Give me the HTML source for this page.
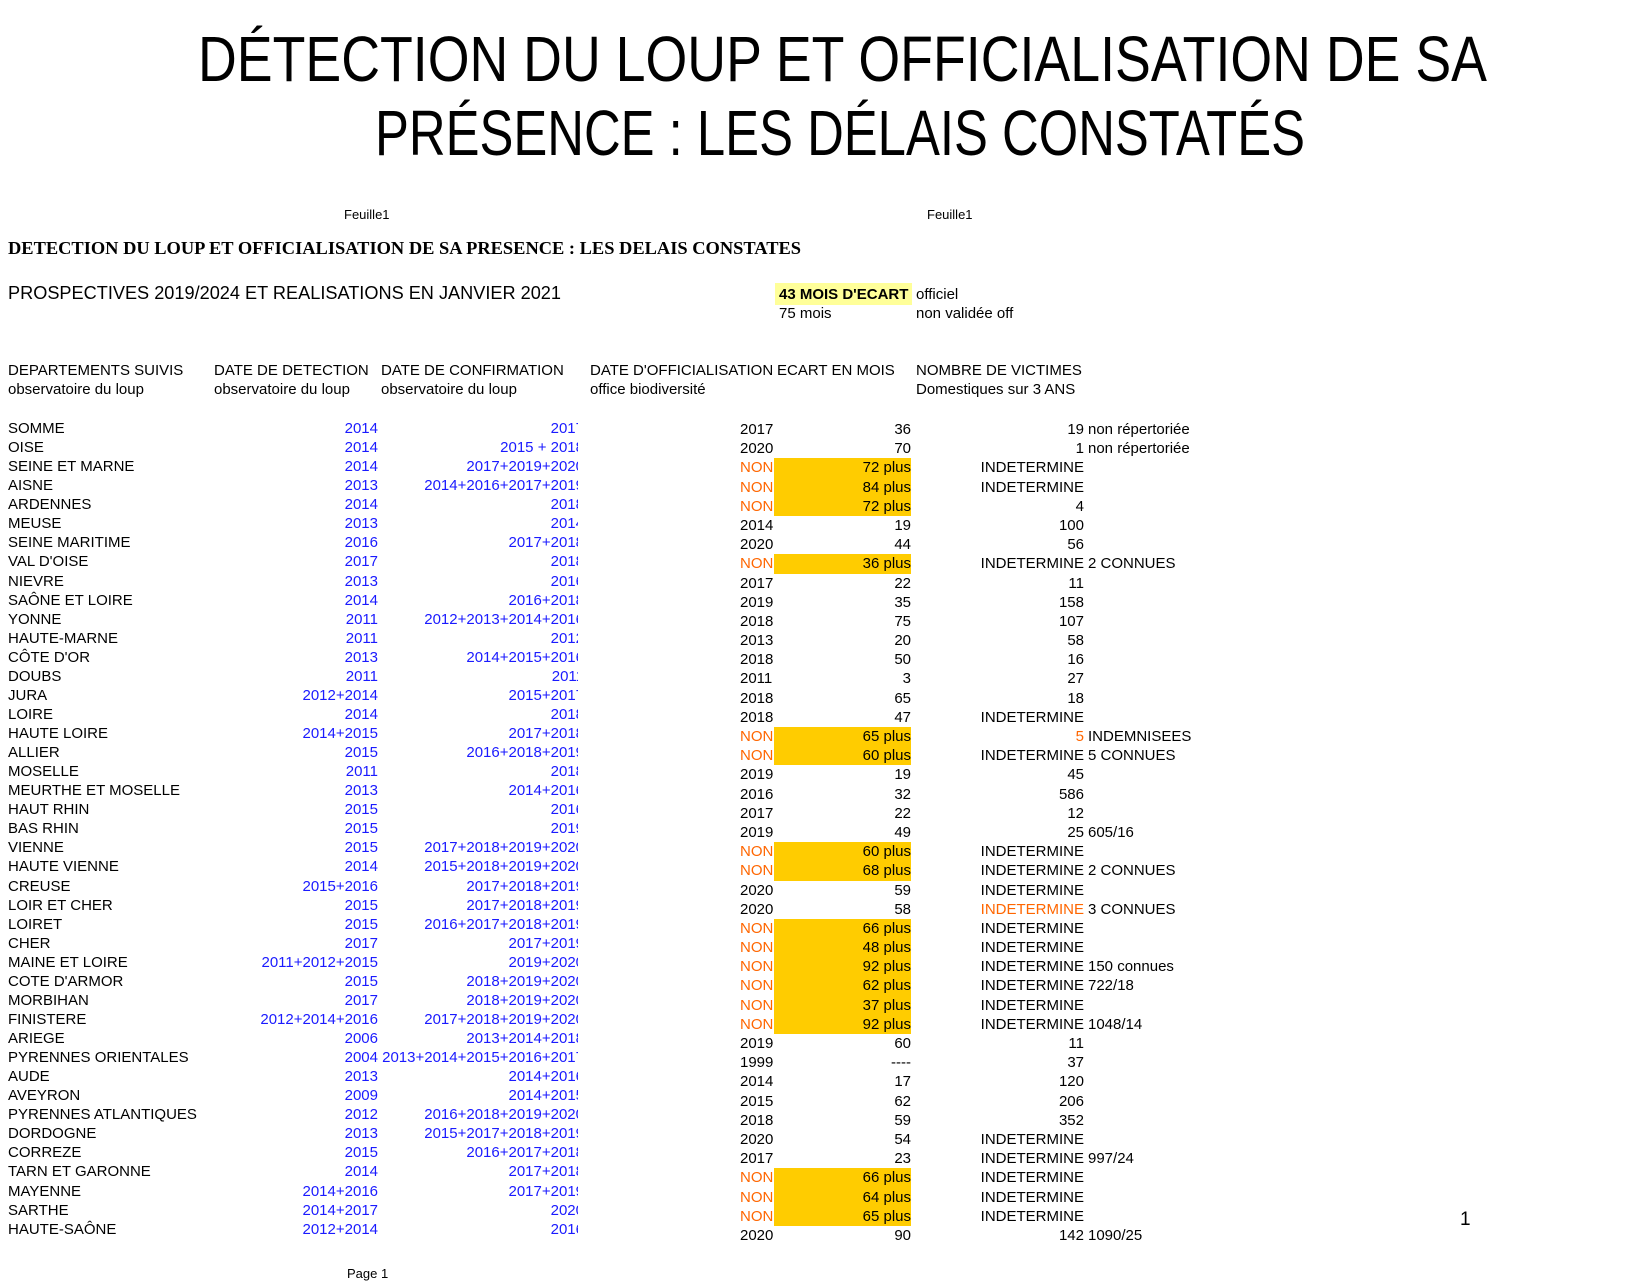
<!DOCTYPE html>
<html><head><meta charset="utf-8"><style>
body{margin:0;width:1650px;height:1275px;background:#fff;position:relative;overflow:hidden;font-family:"Liberation Sans",Arial,sans-serif;color:#000}
.a{position:absolute;white-space:nowrap}
.t{font-size:15px;line-height:19px}
.col{position:absolute;font-size:15px;white-space:nowrap}
.L>div,.L>.w>div{height:19.07px;line-height:19.07px}
.R>div{height:19.2px;line-height:19.2px}
.bl{color:#1a1aff}
.or{color:#ff6600}
.y{background:#ffcc00}
.r{text-align:right}
</style></head><body>
<svg class="a" style="left:0;top:0" width="1650" height="320">
<text x="198" y="81" font-family="Liberation Sans, sans-serif" font-size="64" textLength="1289" lengthAdjust="spacingAndGlyphs">DÉTECTION DU LOUP ET OFFICIALISATION DE SA</text>
<text x="375" y="155" font-family="Liberation Sans, sans-serif" font-size="64" textLength="930" lengthAdjust="spacingAndGlyphs">PRÉSENCE : LES DÉLAIS CONSTATÉS</text>
<text x="8" y="254" font-family="Liberation Serif, serif" font-weight="bold" font-size="18" textLength="793" lengthAdjust="spacingAndGlyphs">DETECTION DU LOUP ET OFFICIALISATION DE SA PRESENCE  :  LES DELAIS CONSTATES</text>
<text x="8" y="299" font-family="Liberation Sans, sans-serif" font-size="18" textLength="553" lengthAdjust="spacingAndGlyphs">PROSPECTIVES 2019/2024 ET REALISATIONS EN JANVIER 2021</text>
</svg>
<div class="a" style="left:344px;top:207px;font-size:13px">Feuille1</div>
<div class="a" style="left:927px;top:207px;font-size:13px">Feuille1</div>
<div class="a" style="left:775px;top:283px;width:137px;height:22px;background:#ffff99"></div>
<div class="a t" style="left:779px;top:285px;font-weight:bold">43 MOIS D'ECART</div>
<div class="a t" style="left:916px;top:285px">officiel</div>
<div class="a t" style="left:779px;top:304px">75 mois</div>
<div class="a t" style="left:916px;top:304px">non validée off</div>

<div class="a t" style="left:8px;top:361px">DEPARTEMENTS SUIVIS<br>observatoire du loup</div>
<div class="a t" style="left:214px;top:361px">DATE DE DETECTION<br>observatoire du loup</div>
<div class="a t" style="left:381px;top:361px">DATE DE CONFIRMATION<br>observatoire du loup</div>
<div class="a t" style="left:590px;top:361px">DATE D'OFFICIALISATION<br>office biodiversité</div>
<div class="a t" style="left:777px;top:361px">ECART EN MOIS</div>
<div class="a t" style="left:916px;top:361px">NOMBRE DE VICTIMES<br>Domestiques sur 3 ANS</div>

<div class="col L" style="left:8px;top:419px">
<div>SOMME</div><div>OISE</div><div>SEINE ET MARNE</div><div>AISNE</div><div>ARDENNES</div><div>MEUSE</div><div>SEINE MARITIME</div><div>VAL D'OISE</div><div>NIEVRE</div><div>SAÔNE ET LOIRE</div><div>YONNE</div><div>HAUTE-MARNE</div><div>CÔTE D'OR</div><div>DOUBS</div><div>JURA</div><div>LOIRE</div><div>HAUTE LOIRE</div><div>ALLIER</div><div>MOSELLE</div><div>MEURTHE ET MOSELLE</div><div>HAUT RHIN</div><div>BAS RHIN</div><div>VIENNE</div><div>HAUTE VIENNE</div><div>CREUSE</div><div>LOIR ET CHER</div><div>LOIRET</div><div>CHER</div><div>MAINE ET LOIRE</div><div>COTE D'ARMOR</div><div>MORBIHAN</div><div>FINISTERE</div><div>ARIEGE</div><div>PYRENNES ORIENTALES</div><div>AUDE</div><div>AVEYRON</div><div>PYRENNES ATLANTIQUES</div><div>DORDOGNE</div><div>CORREZE</div><div>TARN ET GARONNE</div><div>MAYENNE</div><div>SARTHE</div><div>HAUTE-SAÔNE</div>
</div>

<div class="col L bl r" style="left:200px;top:419px;width:178px">
<div>2014</div><div>2014</div><div>2014</div><div>2013</div><div>2014</div><div>2013</div><div>2016</div><div>2017</div><div>2013</div><div>2014</div><div>2011</div><div>2011</div><div>2013</div><div>2011</div><div>2012+2014</div><div>2014</div><div>2014+2015</div><div>2015</div><div>2011</div><div>2013</div><div>2015</div><div>2015</div><div>2015</div><div>2014</div><div>2015+2016</div><div>2015</div><div>2015</div><div>2017</div><div>2011+2012+2015</div><div>2015</div><div>2017</div><div>2012+2014+2016</div><div>2006</div><div>2004</div><div>2013</div><div>2009</div><div>2012</div><div>2013</div><div>2015</div><div>2014</div><div>2014+2016</div><div>2014+2017</div><div>2012+2014</div>
</div>

<div class="col L bl" style="left:379px;top:419px;width:199px;height:830px;overflow:hidden">
<section class="w r" style="width:205px">
<div>2017</div><div>2015 + 2018</div><div>2017+2019+2020</div><div>2014+2016+2017+2019</div><div>2018</div><div>2014</div><div>2017+2018</div><div>2018</div><div>2016</div><div>2016+2018</div><div>2012+2013+2014+2016</div><div>2012</div><div>2014+2015+2016</div><div>2011</div><div>2015+2017</div><div>2018</div><div>2017+2018</div><div>2016+2018+2019</div><div>2018</div><div>2014+2016</div><div>2016</div><div>2019</div><div>2017+2018+2019+2020</div><div>2015+2018+2019+2020</div><div>2017+2018+2019</div><div>2017+2018+2019</div><div>2016+2017+2018+2019</div><div>2017+2019</div><div>2019+2020</div><div>2018+2019+2020</div><div>2018+2019+2020</div><div>2017+2018+2019+2020</div><div>2013+2014+2018</div><div>2013+2014+2015+2016+2017</div><div>2014+2016</div><div>2014+2015</div><div>2016+2018+2019+2020</div><div>2015+2017+2018+2019</div><div>2016+2017+2018</div><div>2017+2018</div><div>2017+2019</div><div>2020</div><div>2016</div>
</section></div>

<div class="col R" style="left:740px;top:420px">
<div>2017</div><div>2020</div><div class="or">NON</div><div class="or">NON</div><div class="or">NON</div><div>2014</div><div>2020</div><div class="or">NON</div><div>2017</div><div>2019</div><div>2018</div><div>2013</div><div>2018</div><div>2011</div><div>2018</div><div>2018</div><div class="or">NON</div><div class="or">NON</div><div>2019</div><div>2016</div><div>2017</div><div>2019</div><div class="or">NON</div><div class="or">NON</div><div>2020</div><div>2020</div><div class="or">NON</div><div class="or">NON</div><div class="or">NON</div><div class="or">NON</div><div class="or">NON</div><div class="or">NON</div><div>2019</div><div>1999</div><div>2014</div><div>2015</div><div>2018</div><div>2020</div><div>2017</div><div class="or">NON</div><div class="or">NON</div><div class="or">NON</div><div>2020</div>
</div>

<div class="col R r" style="left:774px;top:420px;width:137px">
<div>36</div><div>70</div><div class="y">72 plus</div><div class="y">84 plus</div><div class="y">72 plus</div><div>19</div><div>44</div><div class="y">36 plus</div><div>22</div><div>35</div><div>75</div><div>20</div><div>50</div><div>3</div><div>65</div><div>47</div><div class="y">65 plus</div><div class="y">60 plus</div><div>19</div><div>32</div><div>22</div><div>49</div><div class="y">60 plus</div><div class="y">68 plus</div><div>59</div><div>58</div><div class="y">66 plus</div><div class="y">48 plus</div><div class="y">92 plus</div><div class="y">62 plus</div><div class="y">37 plus</div><div class="y">92 plus</div><div>60</div><div>----</div><div>17</div><div>62</div><div>59</div><div>54</div><div>23</div><div class="y">66 plus</div><div class="y">64 plus</div><div class="y">65 plus</div><div>90</div>
</div>

<div class="col R r" style="left:880px;top:420px;width:204px">
<div>19</div><div>1</div><div>INDETERMINE</div><div>INDETERMINE</div><div>4</div><div>100</div><div>56</div><div>INDETERMINE</div><div>11</div><div>158</div><div>107</div><div>58</div><div>16</div><div>27</div><div>18</div><div>INDETERMINE</div><div class="or">5</div><div>INDETERMINE</div><div>45</div><div>586</div><div>12</div><div>25</div><div>INDETERMINE</div><div>INDETERMINE</div><div>INDETERMINE</div><div class="or">INDETERMINE</div><div>INDETERMINE</div><div>INDETERMINE</div><div>INDETERMINE</div><div>INDETERMINE</div><div>INDETERMINE</div><div>INDETERMINE</div><div>11</div><div>37</div><div>120</div><div>206</div><div>352</div><div>INDETERMINE</div><div>INDETERMINE</div><div>INDETERMINE</div><div>INDETERMINE</div><div>INDETERMINE</div><div>142</div>
</div>

<div class="col R" style="left:1088px;top:420px">
<div>non répertoriée</div><div>non répertoriée</div><div>&nbsp;</div><div>&nbsp;</div><div>&nbsp;</div><div>&nbsp;</div><div>&nbsp;</div><div>2 CONNUES</div><div>&nbsp;</div><div>&nbsp;</div><div>&nbsp;</div><div>&nbsp;</div><div>&nbsp;</div><div>&nbsp;</div><div>&nbsp;</div><div>&nbsp;</div><div>INDEMNISEES</div><div>5 CONNUES</div><div>&nbsp;</div><div>&nbsp;</div><div>&nbsp;</div><div>605/16</div><div>&nbsp;</div><div>2 CONNUES</div><div>&nbsp;</div><div>3 CONNUES</div><div>&nbsp;</div><div>&nbsp;</div><div>150 connues</div><div>722/18</div><div>&nbsp;</div><div>1048/14</div><div>&nbsp;</div><div>&nbsp;</div><div>&nbsp;</div><div>&nbsp;</div><div>&nbsp;</div><div>&nbsp;</div><div>997/24</div><div>&nbsp;</div><div>&nbsp;</div><div>&nbsp;</div><div>1090/25</div>
</div>

<div class="a" style="left:1460px;top:1209px;font-size:19px">1</div>
<div class="a" style="left:347px;top:1266px;font-size:13px">Page 1</div>
</body></html>
